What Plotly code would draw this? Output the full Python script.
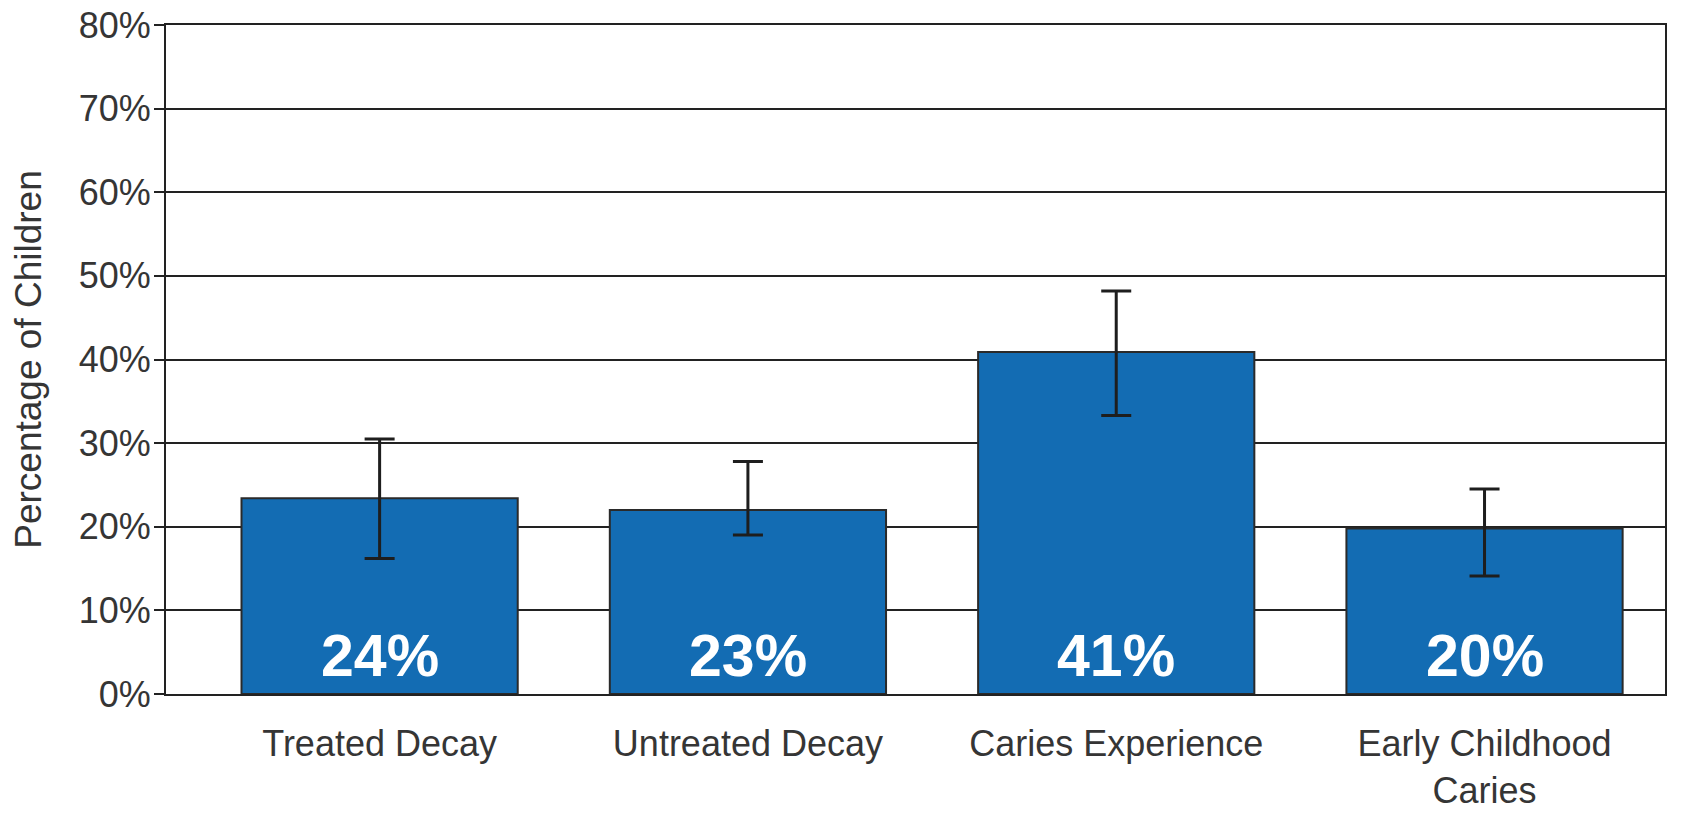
import plotly.graph_objects as go

categories = ["Treated Decay", "Untreated Decay", "Caries Experience", "Early Childhood<br>Caries"]
values = [23.4, 22.0, 40.9, 19.8]
err_upper = [30.5, 27.8, 48.2, 24.5]
err_lower = [16.2, 19.0, 33.3, 14.1]
bar_labels = ["24%", "23%", "41%", "20%"]
y_ticks = [0, 10, 20, 30, 40, 50, 60, 70, 80]
y_tick_text = ["0%", "10%", "20%", "30%", "40%", "50%", "60%", "70%", "80%"]

FONT = "Liberation Sans"
BLUE = "#136cb3"
TXT = "#353535"

x_idx = list(range(len(categories)))
fig = go.Figure()
fig.add_trace(go.Bar(
    x=x_idx, y=values, width=0.75,
    marker=dict(color=BLUE, line=dict(color="#2a2a2a", width=2)),
    error_y=dict(type="data", symmetric=False,
                 array=[u - v for u, v in zip(err_upper, values)],
                 arrayminus=[v - l for l, v in zip(err_lower, values)],
                 color="#1e1e1e", thickness=3, width=15),
    hoverinfo="skip",
))

for i, lab in enumerate(bar_labels):
    fig.add_annotation(x=i, y=4.5, xref="x", yref="y", text=lab, showarrow=False,
                       font=dict(family=FONT, size=59, color="white", weight="bold"),
                       yanchor="middle", xanchor="center")

fig.update_layout(
    width=1682, height=813,
    margin=dict(l=166, r=17, t=25, b=119),
    plot_bgcolor="white", paper_bgcolor="white",
    showlegend=False,
    font=dict(family=FONT, color=TXT),
)
fig.update_xaxes(
    range=[-0.58, 3.49], tickmode="array", tickvals=x_idx, ticktext=categories,
    showline=True, linecolor="#222222", linewidth=2, mirror=True,
    showgrid=False, ticks="", tickfont=dict(family=FONT, size=36, color=TXT),
    ticklabelstandoff=17, automargin=False, ticklabeloverflow="allow",
)
fig.update_yaxes(
    range=[0, 80], tickmode="array", tickvals=y_ticks, ticktext=y_tick_text,
    showline=True, linecolor="#222222", linewidth=2, mirror=True,
    showgrid=True, gridcolor="#222222", gridwidth=2,
    zeroline=False,
    ticks="outside", ticklen=10, tickcolor="#222222", tickwidth=2,
    tickfont=dict(family=FONT, size=36, color=TXT),
    ticklabelstandoff=-4, ticklabeloverflow="allow",
    title=dict(text="Percentage of Children", font=dict(family=FONT, size=37, color=TXT), standoff=26),
    automargin=False,
)

fig.write_html("out.html", config={"displayModeBar": False},
               post_script="document.body.style.margin='0';")
